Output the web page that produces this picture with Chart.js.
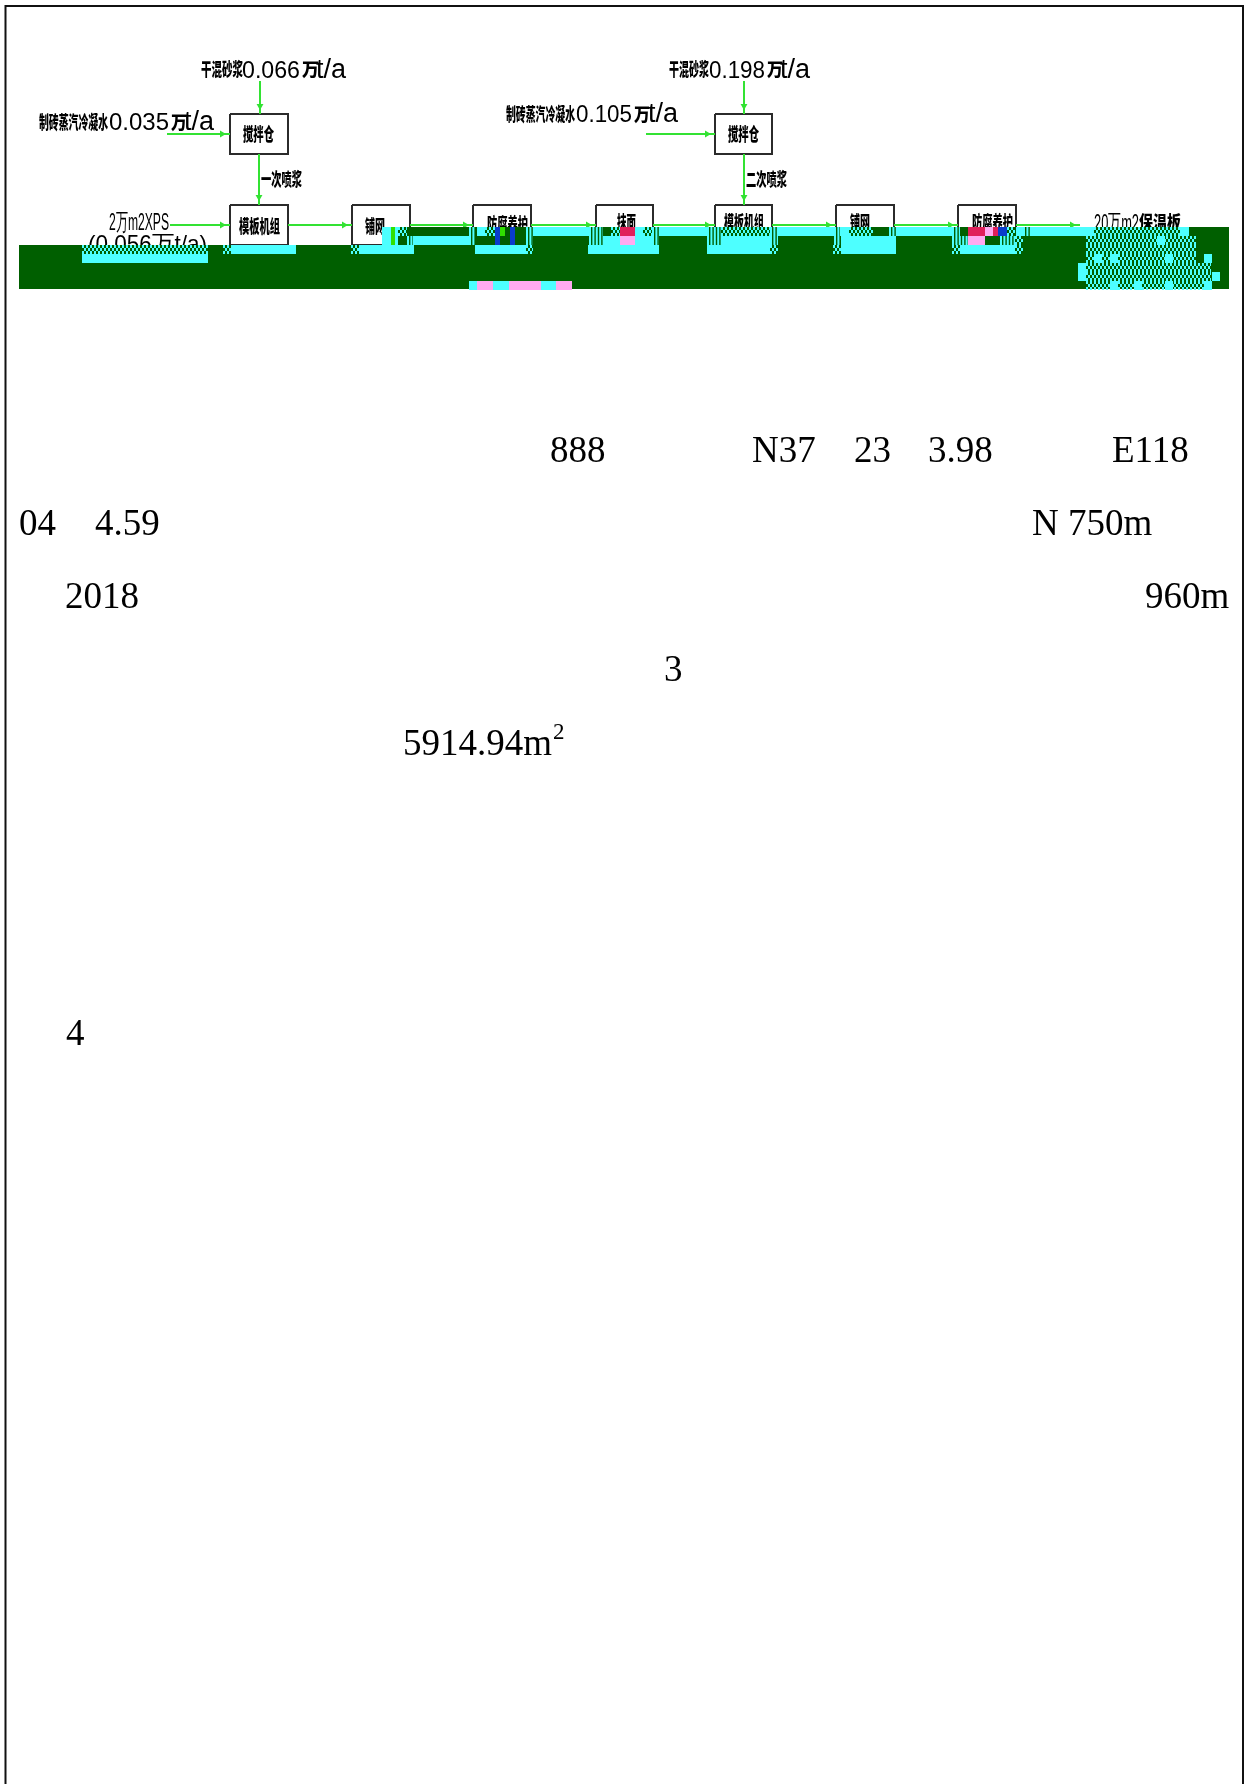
<!DOCTYPE html>
<html>
<head>
<meta charset="utf-8">
<title>工艺流程图</title>
<script src="https://cdn.jsdelivr.net/npm/chart.js@4"></script>
<style>
  html, body { margin: 0; padding: 0; background: #fff; }
  canvas { display: block; }
</style>
</head>
<body>
<canvas id="chart" width="1244" height="1784"></canvas>
<script>
// Diagram units on both axes: 0-1244 across, 0-1784 down
const frameX = [5.5, 5.5, 1243, 1243];
const frameY = [1784, 6, 6, 1784];

// process boxes: left, right, top, bottom
const boxes = [
  [230, 288, 114, 154], [715, 772, 114, 154],
  [230, 288, 205, 245], [352, 410, 205, 245], [473, 531, 205, 245], [596, 653, 205, 245],
  [715, 772, 205, 245], [836, 894, 205, 245], [958, 1016, 205, 245],
];

// flows: [from, to, at]
const flowsRight = [
  [167, 230, 134], [646, 715, 134],
  [170, 230, 225], [288, 352, 225], [410, 473, 225], [531, 596, 225],
  [653, 715, 225], [772, 836, 225], [894, 958, 225], [1016, 1080, 225],
];
const flowsDown = [
  [260, 81, 114], [259, 154, 205], [744, 81, 114], [744, 154, 205],
];

// band spans: [from, to, centre line]
const darkBand = [[19, 1229, 267], [383, 1229, 236]];
// spans: [from, to, row top]
const cyanSolid = [
  [382, 398, 227], [477, 485, 227], [533, 591, 227], [635, 643, 227], [659, 707, 227],
  [778, 834, 227], [840, 849, 227], [896, 952, 227], [1016, 1023, 227], [1030, 1094, 227],
  [1180, 1189, 227],
  [382, 398, 236], [413, 470, 236], [603, 652, 236], [721, 770, 236], [841, 896, 236],
  [231, 296, 245], [359, 414, 245], [475, 526, 245], [588, 659, 245], [707, 770, 245],
  [841, 896, 245], [960, 1015, 245],
  [82, 208, 254],
  [469, 477, 281], [493, 509, 281], [541, 556, 281],
];
const cyanSpots = [
  [1157, 1165, 236], [1094, 1102, 254], [1110, 1118, 254], [1165, 1173, 254], [1204, 1212, 254],
  [1078, 1086, 263], [1078, 1086, 272], [1212, 1220, 272],
  [1110, 1118, 281], [1134, 1142, 281], [1165, 1173, 281], [1204, 1212, 281],
];
const cyanStripes = [
  [469, 475, 227], [526, 533, 227], [589, 603, 227], [652, 659, 227], [707, 721, 227],
  [770, 778, 227], [834, 840, 227], [889, 896, 227], [952, 960, 227], [1023, 1030, 227],
  [407, 413, 236], [469, 475, 236], [526, 533, 236], [589, 603, 236], [652, 659, 236],
  [707, 721, 236], [770, 778, 236], [834, 840, 236], [952, 968, 236], [1000, 1015, 236],
];
const cyanChecks = [
  [398, 407, 227], [485, 495, 227], [611, 620, 227], [643, 652, 227], [721, 770, 227],
  [849, 873, 227], [1007, 1015, 227], [1094, 1180, 227],
  [1015, 1023, 236], [1086, 1196, 236],
  [82, 208, 245], [223, 231, 245], [351, 359, 245], [526, 533, 245], [770, 778, 245],
  [833, 841, 245], [952, 960, 245], [1015, 1023, 245], [1086, 1196, 245],
  [169, 177, 254], [1086, 1196, 254],
  [1086, 1211, 263], [1086, 1211, 272], [1086, 1204, 281],
];
const pinkSpans = [
  [477, 493, 281], [509, 541, 281], [556, 572, 281],
  [620, 635, 236], [968, 985, 236], [985, 993, 227],
];
const redSpans = [[620, 635, 227], [968, 985, 227], [993, 998, 227]];
const blueSpans = [[495, 500, 227], [495, 500, 236], [510, 515, 227], [510, 515, 236], [998, 1007, 227]];
const limeSpans = [[391, 395, 227], [391, 395, 236], [500, 505, 227]];

// text, left edge, right edge, centre line
const cjkLabels = [
  ["干混砂浆", 201, 243, 69], ["万", 302, 319, 69],
  ["制砖蒸汽冷凝水", 39, 108, 122], ["万", 171, 187, 122],
  ["搅拌仓", 243, 274, 134], ["一次喷浆", 261, 302, 179],
  ["模板机组", 239, 280, 226], ["铺网", 365, 385, 226], ["防腐养护", 487, 528, 224],
  ["抹面", 617, 636, 222], ["模板机组", 724, 764, 222], ["铺网", 850, 870, 222],
  ["防腐养护", 972, 1013, 222],
  ["干混砂浆", 669, 709, 69], ["万", 767, 783, 69],
  ["制砖蒸汽冷凝水", 506, 575, 114], ["万", 634, 650, 114],
  ["二次喷浆", 746, 787, 179], ["搅拌仓", 728, 759, 134], ["保温板", 1139, 1181, 222],
];
// text, left edge, right edge, baseline
const flowLabels = [
  ["0.066", 242, 300, 78],
  ["0.035", 109, 169, 130],
  ["0.198", 709, 765, 78],
  ["0.105", 576, 632, 122],
  ["2万m2XPS", 109, 169, 230], ["(0.056万t/a)", 88, 207, 252], ["20万m2", 1094, 1139, 231],
];
// unit after the amounts: left edge, baseline
const unitLabels = [
  ["t/a", 316, 78], ["t/a", 184, 130], ["t/a", 780, 78], ["t/a", 648, 122],
];
// text, left edge, baseline
const bodyLabels = [
  ["888", 550, 462], ["N37", 752, 462], ["23", 854, 462], ["3.98", 928, 462], ["E118", 1112, 462],
  ["04", 19, 535], ["4.59", 95, 535], ["N 750m", 1032, 535],
  ["2018", 65, 608], ["960m", 1145, 608],
  ["3", 664, 681],
  ["5914.94m", 403, 755],
  ["4", 66, 1045],
];
const bodySuper = ["2", 553, 739];

const DARK = "#005f00";
const CYAN = "#4dffff";
const FLOW = "#33e233";
const ROW = 9;

function lineSet(data, color, width, extra) {
  return Object.assign({
    data, borderColor: color, borderWidth: width, showLine: true, pointRadius: 0,
    spanGaps: false, tension: 0, clip: false,
  }, extra);
}

// one thick line per span, split by nulls so the gaps stay open
function spanPoints(spans, lift) {
  const pts = [];
  spans.forEach(([a, b, top]) => {
    pts.push({ x: a, y: top + lift }, { x: b, y: top + lift }, { x: b, y: null });
  });
  return pts;
}

function boxPoints() {
  const pts = [];
  boxes.forEach(([l, r, t, b]) => {
    pts.push({ x: l, y: t }, { x: r, y: t }, { x: r, y: b }, { x: l, y: b }, { x: l, y: t }, { x: l, y: null });
  });
  return pts;
}

function rowSet(spans, color) {
  return lineSet(spanPoints(spans, ROW / 2), color, ROW);
}

// checks are three thin rows with the dashes shifted on the middle one
function checkSets(spans) {
  const outer = spanPoints(spans, 1.5).concat(spanPoints(spans, 7.5));
  return [
    lineSet(outer, CYAN, 3, { borderDash: [2, 2] }),
    lineSet(spanPoints(spans, 4.5), CYAN, 3, { borderDash: [2, 2], borderDashOffset: 2 }),
  ];
}

// bottom layer first, reversed below because Chart.js paints the first dataset last
const layers = [
  lineSet(frameX.map((x, i) => ({ x, y: frameY[i] })), "#111", 2),
  lineSet(boxPoints(), "#2b2b2b", 2),
  lineSet(flowsRight.flatMap(([a, b, y]) => [{ x: a, y }, { x: b, y }, { x: b, y: null }]), FLOW, 2),
  lineSet(flowsDown.flatMap(([x, a, b]) => [{ x, y: a }, { x, y: b }, { x, y: null }]), FLOW, 2),
  lineSet(flowsRight.map(([, b, y]) => ({ x: b - 8, y })), FLOW, 0, {
    showLine: false, pointRadius: 4, pointStyle: "triangle", pointRotation: 90, pointBackgroundColor: FLOW, pointBorderWidth: 0,
  }),
  lineSet(flowsDown.map(([x, , b]) => ({ x, y: b - 8 })), FLOW, 0, {
    showLine: false, pointRadius: 4, pointStyle: "triangle", pointRotation: 180, pointBackgroundColor: FLOW, pointBorderWidth: 0,
  }),
  lineSet(spanPoints(darkBand.slice(0, 1), 0), DARK, 44),
  lineSet(spanPoints(darkBand.slice(1), 0), DARK, 18),
  rowSet(cyanSolid, CYAN),
  rowSet(pinkSpans, "#ffaaf0"),
  rowSet(redSpans, "#e0205a"),
  rowSet(blueSpans, "#0a3ccc"),
  rowSet(limeSpans, "#30e000"),
  lineSet(spanPoints(cyanStripes, ROW / 2), CYAN, ROW, { borderDash: [2, 1.4] }),
  ...checkSets(cyanChecks),
  rowSet(cyanSpots, CYAN),
];

// labels go under the datasets: the band cuts them off as in the picture
const diagramText = {
  id: "diagramText",
  beforeDatasetsDraw(chart) {
    const { ctx, scales: { x, y } } = chart;
    ctx.save();
    ctx.fillStyle = "#000";
    ctx.textAlign = "left";

    ctx.textBaseline = "middle";
    ctx.font = '900 18px "Noto Sans CJK SC"';
    cjkLabels.forEach(([t, a, b, c]) => {
      ctx.fillText(t, x.getPixelForValue(a), y.getPixelForValue(c), b - a);
    });

    ctx.textBaseline = "alphabetic";
    ctx.font = '24px "Liberation Sans"';
    flowLabels.forEach(([t, a, b, c]) => {
      ctx.fillText(t, x.getPixelForValue(a), y.getPixelForValue(c), b - a);
    });
    ctx.font = '27px "Liberation Sans"';
    unitLabels.forEach(([t, a, c]) => {
      ctx.fillText(t, x.getPixelForValue(a), y.getPixelForValue(c));
    });

    ctx.font = '37px "Liberation Serif"';
    bodyLabels.forEach(([t, a, c]) => {
      ctx.fillText(t, x.getPixelForValue(a), y.getPixelForValue(c));
    });
    ctx.font = '23px "Liberation Serif"';
    ctx.fillText(bodySuper[0], x.getPixelForValue(bodySuper[1]), y.getPixelForValue(bodySuper[2]));
    ctx.restore();
  },
};

new Chart(document.getElementById("chart"), {
  type: "scatter",
  data: { datasets: layers.reverse() },
  plugins: [diagramText],
  options: {
    responsive: false,
    devicePixelRatio: 1,
    animation: false,
    layout: { padding: 0, autoPadding: false },
    plugins: { legend: { display: false }, tooltip: { enabled: false } },
    scales: {
      x: { type: "linear", min: 0, max: 1244, display: false },
      y: { type: "linear", min: 0, max: 1784, reverse: true, display: false },
    },
  },
});
</script>
</body>
</html>
